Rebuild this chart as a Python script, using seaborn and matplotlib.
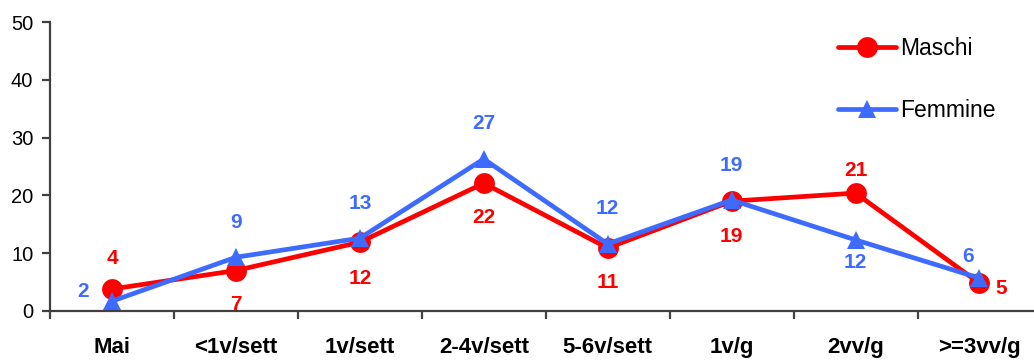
import pandas as pd
import numpy as np
import matplotlib.pyplot as plt
import seaborn as sns
from matplotlib.ticker import FixedLocator

categorie = ['Mai', '<1v/sett', '1v/sett', '2-4v/sett', '5-6v/sett', '1v/g', '2vv/g', '>=3vv/g']
maschi = [3.8, 7.0, 11.9, 22.1, 10.9, 19.0, 20.4, 4.8]
femmine = [1.7, 9.3, 12.6, 26.3, 11.6, 19.2, 12.3, 5.7]
etichette_maschi = [4, 7, 12, 22, 11, 19, 21, 5]
etichette_femmine = [2, 9, 13, 27, 12, 19, 12, 6]

ROSSO = '#FF0000'
BLU = '#3D6BFF'
GRIGIO = '#404040'

sns.set_theme(style='white')
plt.rcParams['font.family'] = ['Liberation Sans', 'DejaVu Sans']
plt.rcParams['text.color'] = 'black'
plt.rcParams['xtick.color'] = 'black'
plt.rcParams['ytick.color'] = 'black'

fig = plt.figure(figsize=(10.34, 3.6), dpi=100)
ax = fig.add_axes([50 / 1034, 49 / 360, 984 / 1034, 289 / 360])

sns.lineplot(x=categorie, y=maschi, color=ROSSO, marker='o', markersize=15,
             markeredgewidth=0, linewidth=3.4, label='Maschi', ax=ax, sort=False)
sns.lineplot(x=categorie, y=femmine, color=BLU, marker='^', markersize=13,
             markeredgewidth=0, linewidth=3.4, label='Femmine', ax=ax, sort=False)

# offset delle etichette (pixel)
off_m = [(0, 31), (0, -34), (0, -36), (0, -34), (0, -35), (0, -35), (0, 23), (22, -5)]
off_f = [(-29, 10), (0, 35), (0, 35), (0, 35), (0, 35), (0, 35), (0, -23), (-11, 22)]
for i, (v, lab) in enumerate(zip(maschi, etichette_maschi)):
    ax.annotate(str(lab), (i, v), xytext=off_m[i], textcoords='offset pixels',
                ha='center', va='center', color=ROSSO, fontsize=15, fontweight='bold')
for i, (v, lab) in enumerate(zip(femmine, etichette_femmine)):
    ax.annotate(str(lab), (i, v), xytext=off_f[i], textcoords='offset pixels',
                ha='center', va='center', color=BLU, fontsize=15, fontweight='bold')

ax.set_xlim(-0.5, 7.44)
ax.set_ylim(0, 50)
ax.set_yticks(range(0, 51, 10))

for s in ['top', 'right']:
    ax.spines[s].set_visible(False)
for s in ['left', 'bottom']:
    ax.spines[s].set_color(GRIGIO)
    ax.spines[s].set_linewidth(1.6)

ax.xaxis.set_minor_locator(FixedLocator(np.arange(-0.5, 7.5, 1)))
ax.tick_params(axis='x', which='major', length=0, pad=19, labelsize=16)
ax.tick_params(axis='x', which='minor', length=6, width=1.6, color=GRIGIO, bottom=True)
ax.tick_params(axis='y', length=6, width=1.6, color=GRIGIO, left=True, labelsize=14.5, pad=6)
for t in ax.get_xticklabels():
    t.set_fontweight('bold')

leg = ax.legend(loc='upper left', bbox_to_anchor=(838 / 1034, 1 - 37 / 360),
                bbox_transform=fig.transFigure, frameon=False, borderpad=0, borderaxespad=0,
                fontsize=16.5, handlelength=2.55, labelspacing=1.72, handletextpad=0.15)

fig.savefig('out.png', dpi=100)
